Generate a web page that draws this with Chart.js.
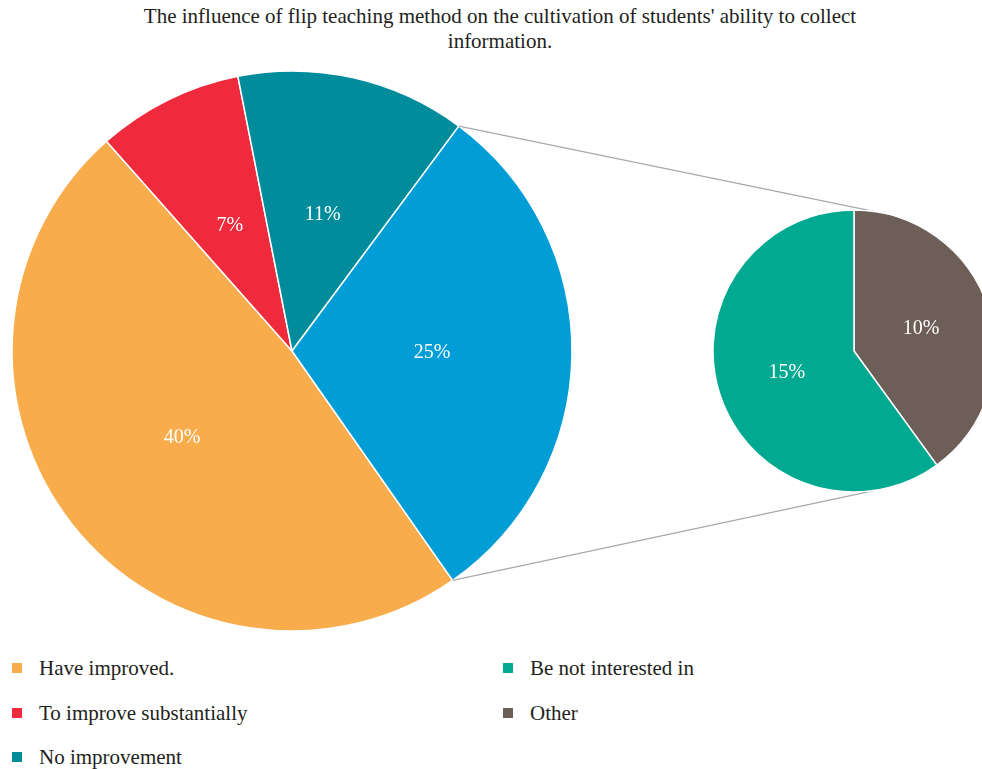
<!DOCTYPE html>
<html>
<head>
<meta charset="utf-8">
<script src="https://cdn.jsdelivr.net/npm/chart.js@4.4.1/dist/chart.umd.min.js"></script>
<style>
  html, body { margin: 0; padding: 0; background: #fff; }
  #page { position: relative; width: 982px; height: 769px; overflow: hidden; font-family: "Liberation Serif", "DejaVu Serif", serif; color: #231f20; }
  #title { position: absolute; left: 110px; width: 780px; top: 4px; text-align: center; font-size: 21px; line-height: 25px; }
  #main { position: absolute; left: 0; top: 0; z-index: 1; }
  #sub-wrap { position: absolute; left: 713px; top: 210px; width: 282px; height: 282px; z-index: 2; }
  .leg { position: absolute; font-size: 21px; line-height: 24px; white-space: nowrap; }
  .leg i { position: absolute; left: 0; top: 7px; width: 10px; height: 10px; }
  .leg span { position: absolute; left: 27px; top: 0; }
</style>
</head>
<body>
<div id="page">
  <div id="title">The influence of flip teaching method on the cultivation of students' ability to collect<br>information.</div>
  <canvas id="main" width="982" height="769"></canvas>
  <div id="sub-wrap"><canvas id="sub" width="282" height="282"></canvas></div>
  <div id="legend"></div>
</div>
<script>
// main pie
const mainLabels = ['Have improved.', 'To improve substantially', 'No improvement', 'Other'];
const mainValues = [40, 7, 11, 25];
const mainColors = ['#f9ac4c', '#ee2a3c', '#008c9b', '#009dd6'];

// secondary pie (split of the "Other" slice)
const subLabels = ['Other', 'Be not interested in'];
const subValues = [10, 15];
const subColors = ['#6d5f58', '#00a98f'];

// legend order as in the picture (column by column)
const legendItems = [
  ['Have improved.', '#f9ac4c'],
  ['To improve substantially', '#ee2a3c'],
  ['No improvement', '#008c9b'],
  ['Be not interested in', '#00a98f'],
  ['Other', '#6d5f58']
];

const pctLabels = {
  id: 'pctLabels',
  afterDatasetsDraw(chart) {
    const ctx = chart.ctx;
    const meta = chart.getDatasetMeta(0);
    const vals = chart.data.datasets[0].data;
    ctx.save();
    ctx.fillStyle = '#ffffff';
    ctx.font = '20px "Liberation Serif", serif';
    ctx.textAlign = 'center';
    ctx.textBaseline = 'middle';
    meta.data.forEach((arc, i) => {
      const p = arc.tooltipPosition();
      ctx.fillText(vals[i] + '%', p.x, p.y);
    });
    ctx.restore();
  }
};

Chart.defaults.animation = false;

const subChart = new Chart(document.getElementById('sub'), {
  type: 'pie',
  data: {
    labels: subLabels,
    datasets: [{ data: subValues, backgroundColor: subColors, borderColor: '#fff', borderWidth: 1.5 }]
  },
  options: {
    responsive: false,
    rotation: 0,
    radius: 141,
    layout: { padding: 0 },
    plugins: { legend: { display: false }, tooltip: { enabled: false } }
  },
  plugins: [pctLabels]
});

// gray lines from the "Other" slice to the secondary pie
const seriesLines = {
  id: 'seriesLines',
  afterDatasetsDraw(chart) {
    const arc = chart.getDatasetMeta(0).data[3];
    const sub = subChart.getDatasetMeta(0).data[0];
    const wrap = document.getElementById('sub-wrap');
    const cx = sub.x + wrap.offsetLeft, cy = sub.y + wrap.offsetTop, r = sub.outerRadius;
    const a = 81.4 * Math.PI / 180;
    const ends = [[arc.startAngle, -a], [arc.endAngle, a]];
    const ctx = chart.ctx;
    ctx.save();
    ctx.strokeStyle = '#a7a9ac';
    ctx.lineWidth = 1.3;
    ends.forEach(([s, e]) => {
      ctx.beginPath();
      ctx.moveTo(arc.x + arc.outerRadius * Math.cos(s), arc.y + arc.outerRadius * Math.sin(s));
      ctx.lineTo(cx + r * Math.cos(e), cy + r * Math.sin(e));
      ctx.stroke();
    });
    ctx.restore();
  }
};

new Chart(document.getElementById('main'), {
  type: 'pie',
  data: {
    labels: mainLabels,
    datasets: [{ data: mainValues, backgroundColor: mainColors, borderColor: '#fff', borderWidth: 1.5 }]
  },
  options: {
    responsive: false,
    rotation: 145,
    radius: 280,
    layout: { padding: { left: 12, top: 71, right: 410, bottom: 138 } },
    plugins: { legend: { display: false }, tooltip: { enabled: false } }
  },
  plugins: [seriesLines, pctLabels]
});

// legend
const legend = document.getElementById('legend');
legendItems.forEach(([text, color], i) => {
  const col = Math.floor(i / 3), row = i % 3;
  const d = document.createElement('div');
  d.className = 'leg';
  d.style.left = (12 + col * 491) + 'px';
  d.style.top = (656 + row * 44.5) + 'px';
  d.innerHTML = '<i style="background:' + color + '"></i><span>' + text + '</span>';
  legend.appendChild(d);
});
</script>
</body>
</html>
